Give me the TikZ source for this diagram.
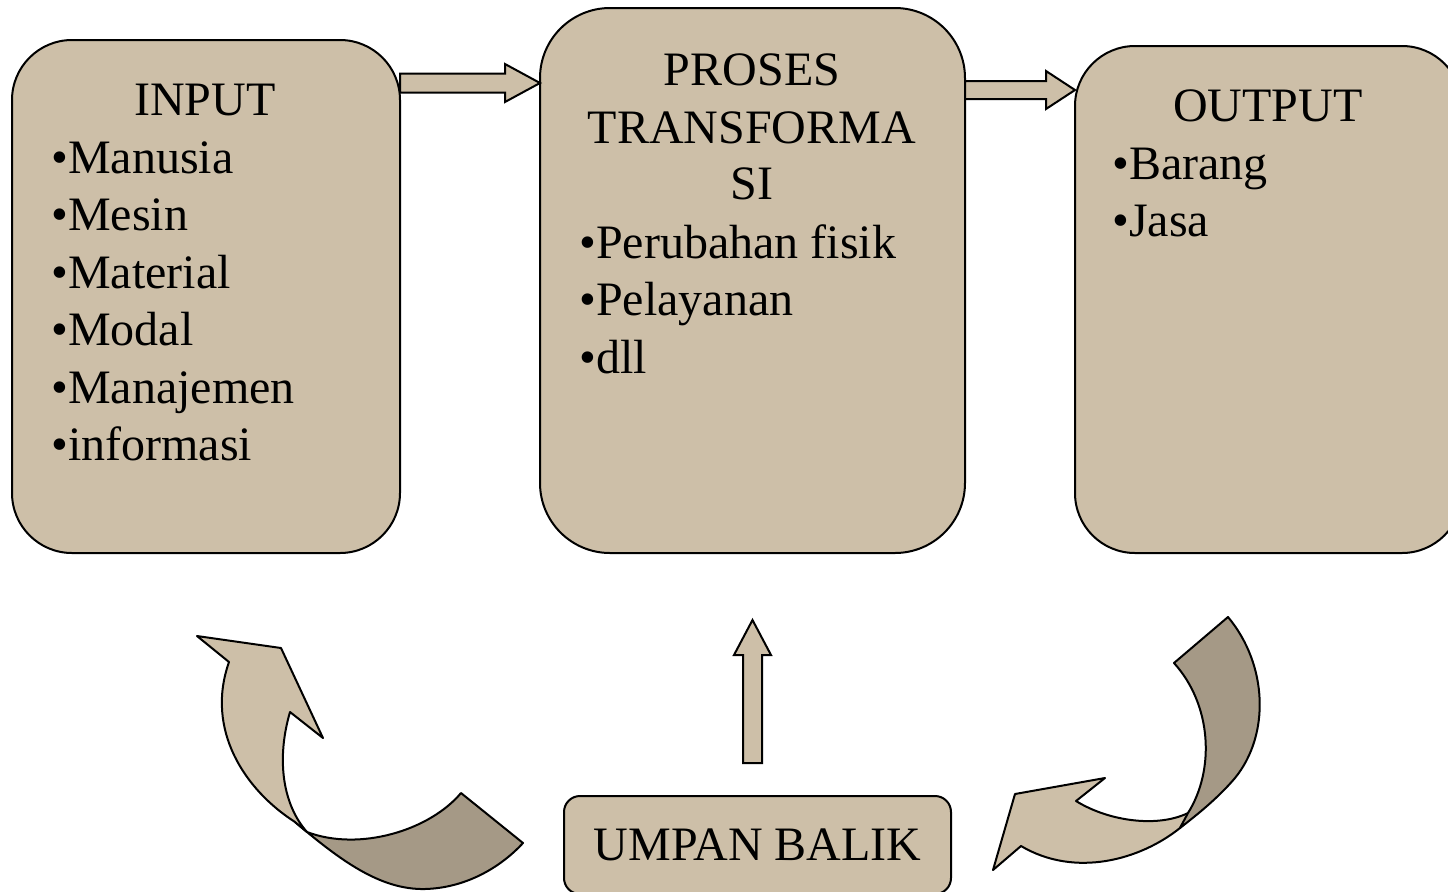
\documentclass[tikz,border=0pt]{standalone}
\usepackage{fontspec}
\setmainfont{Liberation Serif}
\usepackage{tikz}
\usetikzlibrary{calc,positioning}
\definecolor{tan}{RGB}{205,191,168}
\definecolor{tandark}{RGB}{165,153,134}
\tikzset{
	box/.style = {draw=black, fill=tan, line width=1pt, outer sep=0pt,
		inner sep=0pt},% kotak utama
	head/.style = {anchor=base, inner sep=0pt},% judul kotak
	item/.style = {anchor=base west, inner sep=0pt},% butir daftar
	arrbox/.style = {draw=black, fill=tan, line width=1pt},% panah blok
	ribbon/.style = {draw=black, line width=1pt, line join=round}% panah lengkung
}
% panah blok: dari, ke, setengah lebar batang, setengah lebar kepala, panjang kepala
\newcommand{\blockarr}[5]{%
	\path ($(#2)!#5!(#1)$) coordinate (bp);
	\draw[arrbox] ($(#1)!#3!90:(#2)$) -- ($(bp)!#3!-90:(#1)$) -- ($(bp)!#4!-90:(#1)$)
		-- (#2) -- ($(bp)!#4!90:(#1)$) -- ($(bp)!#3!90:(#1)$) -- ($(#1)!#3!-90:(#2)$) -- cycle;
}
\begin{document}
\begin{tikzpicture}[x=0.5pt,y=-0.5pt,font=\fontsize{24}{28.75}\selectfont]
\useasboundingbox (0,0) rectangle (1448,891);
% kotak
\node[box, rounded corners=30pt, minimum width=194pt, minimum height=256.5pt] (input) at (206,296.5) {};
\node[box, rounded corners=35pt, minimum width=212.5pt, minimum height=272.5pt] (proses) at (752.5,280.5) {};
\node[box, rounded corners=30pt, minimum width=193.5pt, minimum height=253.5pt] (output) at (1268.5,299.5) {};
\node[box, rounded corners=8pt, minimum width=193.5pt, minimum height=49pt] (umpan) at (757.5,845) {UMPAN BALIK};
% teks
\node[head] (inputhead) at (205,115) {INPUT};
\foreach \w [count=\i] in {Manusia,Mesin,Material,Modal,Manajemen,informasi}
	\node[item] (in\i) at (51,{173+57.5*(\i-1)}) {•\w};
\node[head] (proses1) at (752,85) {PROSES};
\node[head] (proses2) at (752,143) {TRANSFORMA};
\node[head] (proses3) at (752,199) {SI};
\foreach \w [count=\i] in {Perubahan fisik,Pelayanan,dll}
	\node[item] (pr\i) at (579,{258+57.5*(\i-1)}) {•\w};
\node[head] (outputhead) at (1268,121) {OUTPUT};
\foreach \w [count=\i] in {Barang,Jasa}
	\node[item] (out\i) at (1112,{179+57.5*(\i-1)}) {•\w};
% panah lurus
\coordinate (a1s) at ($(input.north east)+(0,43)$);
\coordinate (a1e) at (proses.west |- a1s);
\coordinate (a2s) at ($(proses.north east)+(0,82)$);
\coordinate (a2e) at (output.west |- a2s);
\coordinate (fbs) at ($(umpan.north)+(-5,-33)$);
\coordinate (fbe) at ($(fbs)+(0,-143)$);
\blockarr{a1s}{a1e}{4.75pt}{9.5pt}{17.5pt}
\blockarr{a2s}{a2e}{4.5pt}{9.5pt}{14.5pt}
\blockarr{fbs}{fbe}{4.75pt}{9.25pt}{17.5pt}
% panah lengkung kiri
\draw[ribbon, fill=tandark] (295,822) .. controls (340,860) and (380,890) .. (425,889)
	.. controls (465,888) and (500,868) .. (523,843) -- (461,793)
	.. controls (430,830) and (360,852) .. (307,832) -- cycle;
\draw[ribbon, fill=tan] (295,822) .. controls (245,790) and (205,730) .. (229,662)
	-- (197,636) -- (281,648) -- (323,738) -- (290,712)
	.. controls (276,760) and (283,805) .. (307,832) -- cycle;
% panah lengkung kanan
\draw[ribbon, fill=tan] (1180,828) .. controls (1140,860) and (1075,878) .. (1021,846)
	-- (993,870) -- (1015,794) -- (1105,778) -- (1076,801)
	.. controls (1110,822) and (1160,828) .. (1190,812) -- cycle;
\draw[ribbon, fill=tandark] (1174,663) -- (1228,617) .. controls (1268,665) and (1270,735) .. (1235,778)
	.. controls (1218,798) and (1198,814) .. (1180,828) -- (1188,813)
	.. controls (1215,770) and (1212,705) .. (1174,663) -- cycle;
\end{tikzpicture}
\end{document}
